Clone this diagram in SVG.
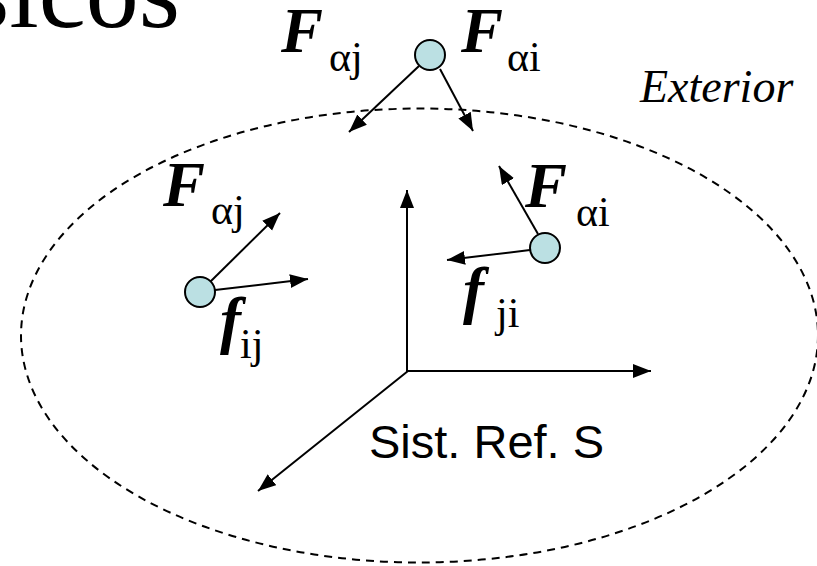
<svg xmlns="http://www.w3.org/2000/svg" width="817" height="566" viewBox="0 0 817 566">
<defs>
<marker id="ah" markerUnits="userSpaceOnUse" markerWidth="20" markerHeight="16" refX="18" refY="7" orient="auto">
<path d="M0,0 L18,7 L0,14 z" fill="#000"/>
</marker>
<style>
.ser{font-family:"Liberation Serif","Times New Roman",serif;fill:#000}
.F{font-family:"Liberation Serif","Times New Roman",serif;font-weight:bold;font-style:italic;font-size:63px}
.sub{font-family:"Liberation Serif","Times New Roman",serif;font-size:42px;font-weight:normal;font-style:normal}
.arr{stroke:#000;stroke-width:2;fill:none;marker-end:url(#ah)}
.node{fill:#bbe0e3;stroke:#000;stroke-width:2}
</style>
</defs>
<rect width="817" height="566" fill="#fff"/>
<text class="ser" x="180" y="27" font-size="106" text-anchor="end">sicos</text>
<ellipse cx="419.5" cy="335.5" rx="398.5" ry="227" fill="none" stroke="#000" stroke-width="2" stroke-dasharray="8,6"/>
<text class="ser" x="640" y="102" font-size="46" font-style="italic">Exterior</text>
<g id="connectors">
<line class="arr" x1="419" y1="66" x2="349" y2="132"/>
<line class="arr" x1="440" y1="69" x2="473" y2="131"/>
<line class="arr" x1="210" y1="282" x2="280" y2="213"/>
<line class="arr" x1="215" y1="290" x2="308" y2="279"/>
<line class="arr" x1="538" y1="234" x2="499" y2="166"/>
<line class="arr" x1="530" y1="250" x2="447" y2="260"/>
<line class="arr" x1="407" y1="372" x2="407" y2="190"/>
<line class="arr" x1="406" y1="371" x2="651" y2="371"/>
<line class="arr" x1="408" y1="371" x2="258" y2="491"/>
</g>
<g id="top-node">
<circle class="node" cx="430" cy="55" r="15"/>
<text class="F" x="281" y="52">F<tspan class="sub" x="329" y="71">αj</tspan></text>
<text class="F" x="461" y="52">F<tspan class="sub" x="507" y="71">αi</tspan></text>
</g>
<g id="left-node">
<circle class="node" cx="200" cy="292" r="15"/>
<text class="F" x="163" y="206">F<tspan class="sub" x="211" y="224">αj</tspan></text>
<text class="F" x="220" y="341">f<tspan class="sub" x="240" y="358">ij</tspan></text>
</g>
<g id="right-node">
<circle class="node" cx="545" cy="248" r="15"/>
<text class="F" x="525" y="207">F<tspan class="sub" x="576" y="226">αi</tspan></text>
<text class="F" x="463" y="311">f<tspan class="sub" x="496" y="327">ji</tspan></text>
</g>
<g id="axes-label">
<text x="369" y="458" font-family="Liberation Sans, Arial, sans-serif" font-size="47">Sist. Ref. S</text>
</g>
</svg>
